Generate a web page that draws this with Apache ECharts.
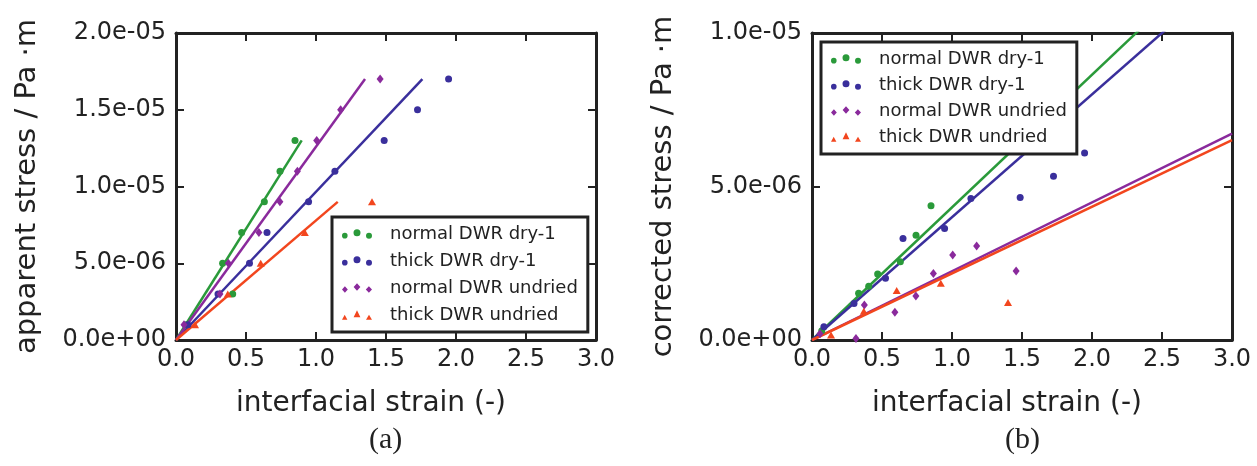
<!DOCTYPE html>
<html>
<head>
<meta charset="utf-8">
<script src="https://cdn.jsdelivr.net/npm/echarts@6/dist/echarts.min.js"></script>
<style>
  html, body { margin: 0; padding: 0; background: #ffffff; }
  #chart { width: 1257px; height: 466px; }
</style>
</head>
<body>
<div id="chart"></div>
<script>
// ---------------- data ----------------
const seriesNames = ['normal DWR dry-1', 'thick DWR dry-1', 'normal DWR undried', 'thick DWR undried'];

// interfacial strain (-)
const strainNormalDry   = [0.07, 0.405, 0.333, 0.469, 0.631, 0.743, 0.85];
const strainThickDry    = [0.085, 0.30, 0.525, 0.65, 0.947, 1.135, 1.487, 1.725, 1.947];
const strainNormalUndr  = [0.057, 0.314, 0.374, 0.592, 0.742, 0.867, 1.005, 1.176, 1.458];
const strainThickUndr   = [0.136, 0.37, 0.605, 0.92, 1.40];

// apparent stress / Pa·m  (panel a)
const apparentNormalDry  = [1e-6, 3e-6, 5e-6, 7e-6, 9e-6, 1.1e-5, 1.3e-5];
const apparentThickDry   = [1e-6, 3e-6, 5e-6, 7e-6, 9e-6, 1.1e-5, 1.3e-5, 1.5e-5, 1.7e-5];
const apparentNormalUndr = [1e-6, 3e-6, 5e-6, 7e-6, 9e-6, 1.1e-5, 1.3e-5, 1.5e-5, 1.7e-5];
const apparentThickUndr  = [1e-6, 3e-6, 5e-6, 7e-6, 9e-6];

// corrected stress / Pa·m  (panel b)
const correctedNormalDry  = [0.3e-6, 1.75e-6, 1.52e-6, 2.15e-6, 2.55e-6, 3.41e-6, 4.37e-6];
const correctedThickDry   = [0.43e-6, 1.19e-6, 2.01e-6, 3.31e-6, 3.63e-6, 4.61e-6, 4.64e-6, 5.33e-6, 6.09e-6];
const correctedNormalUndr = [0.2e-6, 0.05e-6, 1.14e-6, 0.90e-6, 1.43e-6, 2.17e-6, 2.77e-6, 3.06e-6, 2.25e-6];
const correctedThickUndr  = [0.16e-6, 0.94e-6, 1.61e-6, 1.85e-6, 1.22e-6];

// linear fits through the origin (slope in Pa·m per unit strain)
const apparentFitSlopes  = [1.448e-5, 9.66e-6, 1.259e-5, 7.79e-6];
const correctedFitSlopes = [4.32e-6, 4.0e-6, 2.24e-6, 2.17e-6];

// axis ticks
const strainTicks = [0.0, 0.5, 1.0, 1.5, 2.0, 2.5, 3.0];
const apparentTicks = [0, 5e-6, 1e-5, 1.5e-5, 2e-5];
const correctedTicks = [0, 5e-6, 1e-5];

// ---------------- styles ----------------
const colors = ['#2a9a3a', '#3a2f9c', '#8a2a9c', '#f2461e'];
const symbols = ['circle', 'circle', 'diamond', 'triangle'];
const symbolSizes = [7, 7, [7, 9], [8, 7]];
const ink = '#222222';
const font = 'DejaVu Sans';

function circ(cx, cy, r) {
  return `M${cx - r},${cy} A${r},${r},0,1,0,${cx + r},${cy} A${r},${r},0,1,0,${cx - r},${cy} Z `;
}
function diam(cx, cy, w, h) {
  return `M${cx},${cy - h} L${cx + w},${cy} L${cx},${cy + h} L${cx - w},${cy} Z `;
}
function tri(cx, y0, y1, w) {
  return `M${cx},${y0} L${cx + w},${y1} L${cx - w},${y1} Z `;
}
const legendIcons = [
  'path://' + circ(2.8, 6.4, 2.8) + circ(15, 3.5, 3.5) + circ(27, 6.5, 3.0),
  'path://' + circ(2.8, 6.4, 2.8) + circ(15, 3.5, 3.5) + circ(27, 6.5, 3.0),
  'path://' + diam(2.9, 6.3, 2.9, 3.2) + diam(15, 3.7, 3.4, 3.7) + diam(26.9, 6.3, 3.1, 3.2),
  'path://' + tri(2.7, 4.4, 9.5, 2.7) + tri(15, 0, 7, 3.4) + tri(27, 4.4, 9.5, 3.0)
];

function sci(v) {
  if (Math.abs(v) < 1e-20) return '0.0e+00';
  const parts = v.toExponential(1).split('e');
  const n = parseInt(parts[1], 10);
  return parts[0] + 'e' + (n < 0 ? '-' : '+') + String(Math.abs(n)).padStart(2, '0');
}

const strains = [strainNormalDry, strainThickDry, strainNormalUndr, strainThickUndr];
const apparents = [apparentNormalDry, apparentThickDry, apparentNormalUndr, apparentThickUndr];
const correcteds = [correctedNormalDry, correctedThickDry, correctedNormalUndr, correctedThickUndr];

function zip(xs, ys) { return xs.map((x, i) => [x, ys[i]]); }

const gridBox = { top: 33, width: 420, height: 307 };
const grids = [
  Object.assign({ left: 176 }, gridBox),
  Object.assign({ left: 812 }, gridBox)
];

function xAxisDef(gridIndex, position, showLabel) {
  return {
    type: 'value', gridIndex: gridIndex, position: position,
    min: strainTicks[0], max: strainTicks[strainTicks.length - 1],
    interval: strainTicks[1] - strainTicks[0],
    name: showLabel ? 'interfacial strain (-)' : '',
    nameLocation: 'middle', nameGap: 50,
    nameTextStyle: { fontFamily: font, fontSize: 28, color: ink, padding: [0, 30, 0, 0] },
    axisLine: { show: true, onZero: false, lineStyle: { color: ink, width: 3 } },
    axisTick: { show: true, inside: true, length: 8, lineStyle: { color: ink, width: 2 } },
    axisLabel: {
      show: showLabel, margin: 8, fontFamily: font, fontSize: 24, color: ink,
      showMinLabel: true, showMaxLabel: true,
      formatter: v => v.toFixed(1)
    },
    splitLine: { show: false }
  };
}
function yAxisDef(gridIndex, position, showLabel, ticks, title) {
  return {
    type: 'value', gridIndex: gridIndex, position: position,
    min: ticks[0], max: ticks[ticks.length - 1], interval: ticks[1] - ticks[0],
    name: showLabel ? title : '',
    nameLocation: 'middle', nameGap: 134, nameRotate: 90,
    nameTextStyle: { fontFamily: font, fontSize: 29, color: ink },
    axisLine: { show: true, onZero: false, lineStyle: { color: ink, width: 3 } },
    axisTick: { show: true, inside: true, length: 8, lineStyle: { color: ink, width: 2 } },
    axisLabel: {
      show: showLabel, margin: 10, fontFamily: font, fontSize: 24, color: ink,
      showMinLabel: true, showMaxLabel: true,
      formatter: sci
    },
    splitLine: { show: false }
  };
}

const xAxes = [
  xAxisDef(0, 'bottom', true), xAxisDef(0, 'top', false),
  xAxisDef(1, 'bottom', true), xAxisDef(1, 'top', false)
];
const yAxes = [
  yAxisDef(0, 'left', true, apparentTicks, 'apparent stress / Pa \u00b7m'),
  yAxisDef(0, 'right', false, apparentTicks, ''),
  yAxisDef(1, 'left', true, correctedTicks, 'corrected stress / Pa \u00b7m'),
  yAxisDef(1, 'right', false, correctedTicks, '')
];

const series = [];
// fitted lines
for (let i = 0; i < 4; i++) {
  const yMax = Math.max.apply(null, apparents[i]);
  series.push({
    type: 'line', name: 'fitA' + i, xAxisIndex: 0, yAxisIndex: 0,
    data: [[0, 0], [yMax / apparentFitSlopes[i], yMax]],
    showSymbol: false, symbol: 'none', silent: true, z: 2,
    lineStyle: { color: colors[i], width: 2.5 }
  });
  const xEnd = strainTicks[strainTicks.length - 1];
  series.push({
    type: 'line', name: 'fitB' + i, xAxisIndex: 2, yAxisIndex: 2,
    data: [[0, 0], [xEnd, correctedFitSlopes[i] * xEnd]],
    showSymbol: false, symbol: 'none', silent: true, clip: true, z: 2,
    lineStyle: { color: colors[i], width: 2.5 }
  });
}
// scatter points
for (let i = 0; i < 4; i++) {
  series.push({
    type: 'scatter', name: seriesNames[i], xAxisIndex: 0, yAxisIndex: 0,
    data: zip(strains[i], apparents[i]),
    symbol: symbols[i], symbolSize: symbolSizes[i], z: 3,
    itemStyle: { color: colors[i], opacity: 1 }
  });
  series.push({
    type: 'scatter', name: seriesNames[i], xAxisIndex: 2, yAxisIndex: 2,
    data: zip(strains[i], correcteds[i]),
    symbol: symbols[i], symbolSize: symbolSizes[i], z: 3, clip: true,
    itemStyle: { color: colors[i], opacity: 1 }
  });
}

function legendDef(left, top, gap, padTop) {
  return {
    orient: 'vertical', left: left, top: top,
    data: seriesNames.map((n, i) => ({ name: n, icon: legendIcons[i] })),
    itemWidth: 30, itemHeight: 9.5, itemGap: gap,
    padding: [padTop, 10, 8, 10],
    backgroundColor: '#ffffff', borderColor: ink, borderWidth: 3, borderRadius: 0,
    textStyle: { fontFamily: font, fontSize: 18, color: ink, padding: [0, 0, 0, 13] },
    selectedMode: false
  };
}

const option = {
  animation: false,
  backgroundColor: '#ffffff',
  grid: grids,
  xAxis: xAxes,
  yAxis: yAxes,
  legend: [legendDef(332, 217, 9, 8), legendDef(821, 42, 8, 8)],
  series: series,
  graphic: [
    { type: 'text', left: 369, top: 425, style: { text: '(a)', fontFamily: 'Liberation Serif', fontSize: 30, fill: ink } },
    { type: 'text', left: 1005, top: 425, style: { text: '(b)', fontFamily: 'Liberation Serif', fontSize: 30, fill: ink } }
  ]
};

const chart = echarts.init(document.getElementById('chart'), null, { renderer: 'canvas' });
chart.setOption(option);
</script>
</body>
</html>
